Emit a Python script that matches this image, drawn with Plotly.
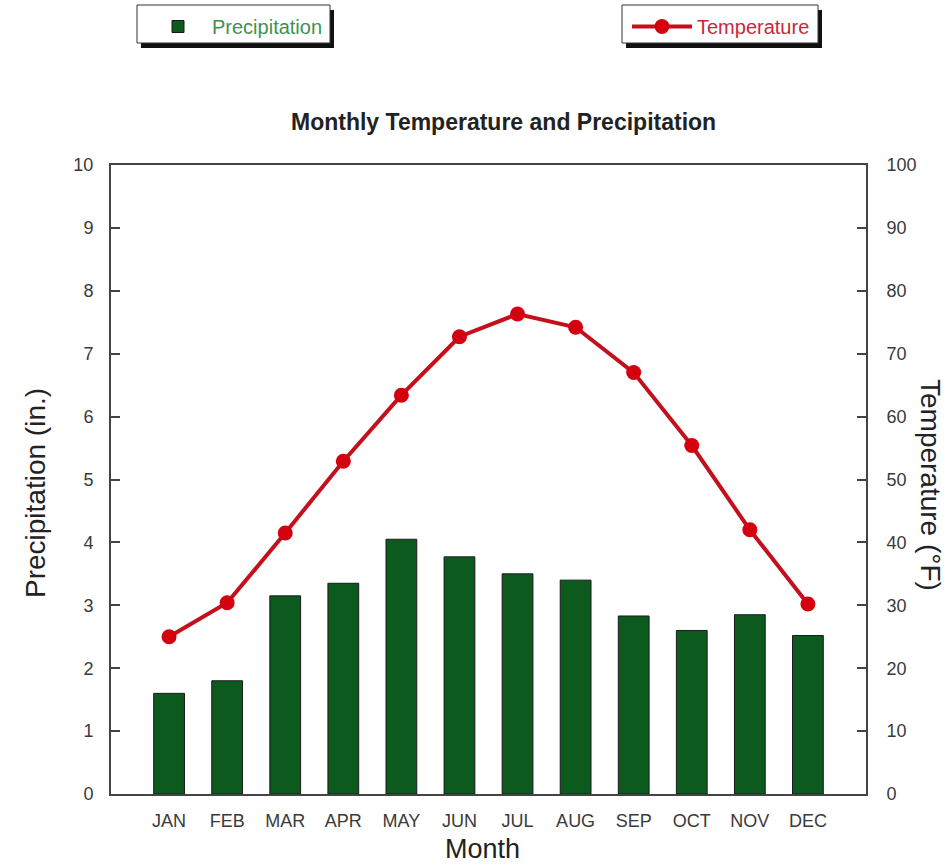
import plotly.graph_objects as go

months = ["JAN", "FEB", "MAR", "APR", "MAY", "JUN", "JUL", "AUG", "SEP", "OCT", "NOV", "DEC"]
precip = [1.6, 1.8, 3.15, 3.35, 4.05, 3.77, 3.5, 3.4, 2.83, 2.6, 2.85, 2.52]
temp = [25.0, 30.4, 41.5, 52.9, 63.4, 72.7, 76.3, 74.2, 67.0, 55.4, 42.0, 30.2]
y1_ticks = list(range(0, 11))
y2_ticks = list(range(0, 101, 10))

FONT = "Liberation Sans, Arial, Helvetica, sans-serif"
x_idx = list(range(len(months)))

W, H = 950, 866
L, R, T, B = 111, 866, 165, 794   # plot area in pixels


def px(x):
    return (x - L) / (R - L)


def py(y):
    return (B - y) / (B - T)


fig = go.Figure()
fig.add_trace(go.Bar(
    x=x_idx, y=precip, name="Precipitation", width=0.53,
    marker=dict(color="#0d5a1f", line=dict(color="#1a1a1a", width=1)),
    legend="legend", yaxis="y",
))
fig.add_trace(go.Scatter(
    x=x_idx, y=temp, name="Temperature", mode="lines+markers",
    line=dict(color="#c4101c", width=4),
    marker=dict(color="#d4000f", size=15),
    legend="legend2", yaxis="y2",
))

axis_line = dict(showline=True, linecolor="#444444", linewidth=2,
                 showgrid=False, zeroline=False)

fig.update_layout(
    width=W, height=H,
    margin=dict(l=L, r=W - R, t=T, b=H - B, autoexpand=False),
    paper_bgcolor="white", plot_bgcolor="white",
    font=dict(family=FONT, color="#333333", size=18),
    xaxis=dict(
        range=[-1, 12], tickmode="array", tickvals=x_idx, ticktext=months,
        mirror=True, ticks="", tickangle=0,
        tickfont=dict(size=18, color="#3a3a3a"), ticklabelstandoff=9,
        **axis_line,
    ),
    yaxis=dict(
        range=[0, 10], tickvals=y1_ticks,
        ticks="inside", ticklen=9, tickwidth=2, tickcolor="#444444",
        tickfont=dict(size=18, color="#3a3a3a"), ticklabelstandoff=12,
        **axis_line,
    ),
    yaxis2=dict(
        range=[0, 100], tickvals=y2_ticks, overlaying="y", side="right",
        ticks="inside", ticklen=9, tickwidth=2, tickcolor="#444444",
        tickfont=dict(size=18, color="#3a3a3a"), ticklabelstandoff=15,
        **axis_line,
    ),
    legend=dict(
        xref="container", yref="container", x=144 / W, y=1 - 7 / H,
        xanchor="left", yanchor="top", orientation="h", itemwidth=58,
        bgcolor="rgba(0,0,0,0)", borderwidth=0,
        font=dict(color="#3f9150", size=20, family=FONT),
    ),
    legend2=dict(
        xref="container", yref="container", x=627 / W, y=1 - 7 / H,
        xanchor="left", yanchor="top", orientation="h", itemwidth=60,
        bgcolor="rgba(0,0,0,0)", borderwidth=0,
        font=dict(color="#c8283a", size=20, family=FONT),
    ),
    showlegend=True,
)

# legend frames with drop shadows
for x0, x1 in [(137, 330), (622, 818)]:
    fig.add_shape(type="rect", xref="paper", yref="paper",
                  x0=px(x0 + 4), x1=px(x1 + 4), y0=py(48), y1=py(10),
                  fillcolor="#111111", line=dict(width=0))
    fig.add_shape(type="rect", xref="paper", yref="paper",
                  x0=px(x0), x1=px(x1), y0=py(43), y1=py(5),
                  fillcolor="white", line=dict(color="#333333", width=1))

common = dict(xref="paper", yref="paper", showarrow=False,
              xanchor="center", yanchor="middle")
fig.add_annotation(text="<b>Monthly Temperature and Precipitation</b>",
                   x=px(503), y=py(122),
                   font=dict(size=23, color="#222222", family=FONT), **common)
fig.add_annotation(text="Precipitation (in.)", textangle=-90,
                   x=px(35), y=py(493),
                   font=dict(size=28, color="#222222", family=FONT), **common)
fig.add_annotation(text="Temperature (°F)", textangle=90,
                   x=px(931), y=py(485),
                   font=dict(size=28, color="#222222", family=FONT), **common)
fig.add_annotation(text="Month",
                   x=px(482), y=py(849),
                   font=dict(size=27, color="#222222", family=FONT), **common)

fig.write_html("out.html", config={"displayModeBar": False},
               post_script="document.body.style.margin='0px';")
